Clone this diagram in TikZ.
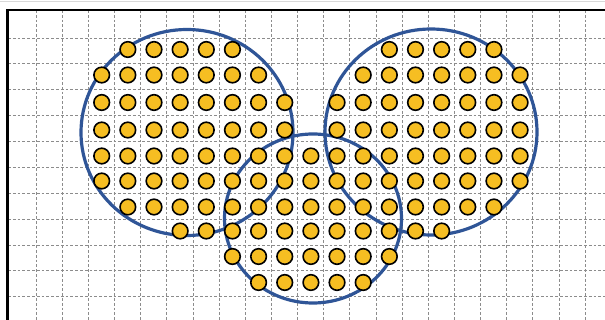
\documentclass[tikz,border=0pt]{standalone}
\usepackage{xcolor}
\usepackage{tikz}
\definecolor{dotgold}{RGB}{246,190,34}
\definecolor{ringblue}{RGB}{47,85,151}

\begin{document}
\begin{tikzpicture}[
x=1pt, y=-1pt,
gridline/.style={gray!90, line width=0.8pt, dash pattern=on 2.8pt off 2pt},
ring/.style={draw=ringblue, line width=3.2pt},
dot/.style={circle, draw=black, fill=dotgold, line width=1.6pt, minimum size=15.6pt, inner sep=0pt}
]
\useasboundingbox (0,0) rectangle (605,320);
% grid
\foreach \k in {0,...,21} \draw[gridline] ({36+26.15*\k},10) -- ({36+26.15*\k},320);
\foreach \k in {0,...,10} \draw[gridline] (8,{38+25.87*\k}) -- (605,{38+25.87*\k});
% frame
\draw[black!15, line width=0.6pt] (0,1) -- (605,1);
\draw[line width=2.2pt] (7.5,320) -- (7.5,10) -- (605,10);
% the three sets
\draw[ring] (187,132.5) ellipse [x radius=106pt, y radius=103pt];
\draw[ring] (431,132) ellipse [x radius=106pt, y radius=103pt];
\draw[ring] (313,218.5) ellipse [x radius=88.5pt, y radius=84.5pt];
% points
\foreach \r/\y/\a/\b in {1/49.5/1/5, 1/49.5/11/15, 2/75/0/6, 2/75/10/16,
  3/102.5/0/7, 3/102.5/9/16, 4/130/0/7, 4/130/9/16, 5/156/0/16, 6/181/0/16,
  7/207/1/15, 8/231/3/13, 9/256.5/5/11, 10/282.5/6/10}
  \foreach \c in {\a,...,\b}
    \node[dot] (d\r-\c) at ({101.7+26.15*\c},\y) {};
\end{tikzpicture}
\end{document}
